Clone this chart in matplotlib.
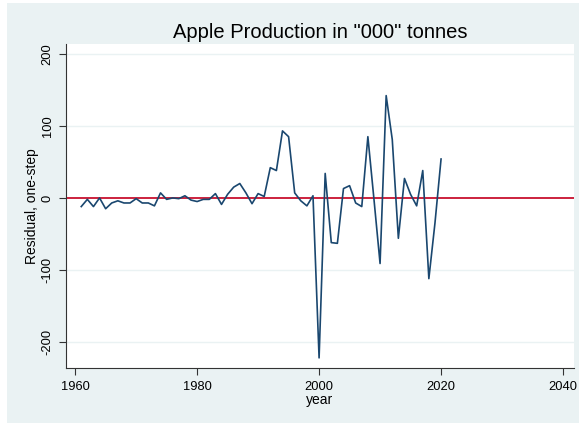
import numpy as np
import matplotlib.pyplot as plt
from matplotlib.patches import Rectangle

plt.rcParams['font.family'] = ['Liberation Sans', 'DejaVu Sans']

# one-step residuals, 1961-2020
years = list(range(1961, 2021))
resid = [-12, -2, -12, 0, -15, -7, -4, -7, -7, -1,
         -7, -7, -11, 7, -2, 0, -1, 3, -3, -5,
         -2, -2, 6, -9, 5, 15, 20, 7, -8, 6,
         2, 42, 38, 93, 85, 7, -4, -11, 3, -222,
         34, -62, -63, 13, 17, -7, -12, 85, -2, -91,
         142, 81, -56, 27, 5, -11, 38, -112, -35, 54]
xticks = [1960, 1980, 2000, 2020, 2040]
yticks = [-200, -100, 0, 100, 200]

bg = '#EAF2F3'
fig = plt.figure(figsize=(5.79, 4.23), dpi=100)
fig.patch.set_facecolor('white')
fig.add_artist(Rectangle((7 / 579, 0), 1 - 7 / 579, 1 - 3 / 423,
                         transform=fig.transFigure, facecolor=bg,
                         edgecolor='none', zorder=-10))

ax = fig.add_axes([66 / 579, 1 - 368 / 423, (574 - 66) / 579, (368 - 44) / 423])
ax.set_facecolor('white')

for t in yticks:
    if t != 0:
        ax.axhline(t, color=bg, lw=1, zorder=1)
ax.axhline(0, color='#C8102E', lw=1.3, zorder=2)
ax.plot(years, resid, color='#1A476F', lw=1.2, zorder=3)

ax.set_xlim(1958.5, 2041.8)
ax.set_ylim(-236, 213.6)
ax.set_xticks(xticks)
ax.set_yticks(yticks)
ax.set_yticklabels([str(t) for t in yticks], rotation=90, va='center')
ax.tick_params(labelsize=9.3, length=5, width=0.8, color='#333333', pad=4)

for s in ['top', 'right']:
    ax.spines[s].set_visible(False)
for s in ['left', 'bottom']:
    ax.spines[s].set_color('#333333')
    ax.spines[s].set_linewidth(0.8)

ax.set_xlabel('year', fontsize=10, labelpad=0)
ax.set_ylabel('Residual, one-step', fontsize=10, labelpad=2)
ax.set_title('Apple Production in "000" tonnes', fontsize=14.5, pad=4)

fig.savefig('out.png', dpi=100, facecolor=fig.get_facecolor())
